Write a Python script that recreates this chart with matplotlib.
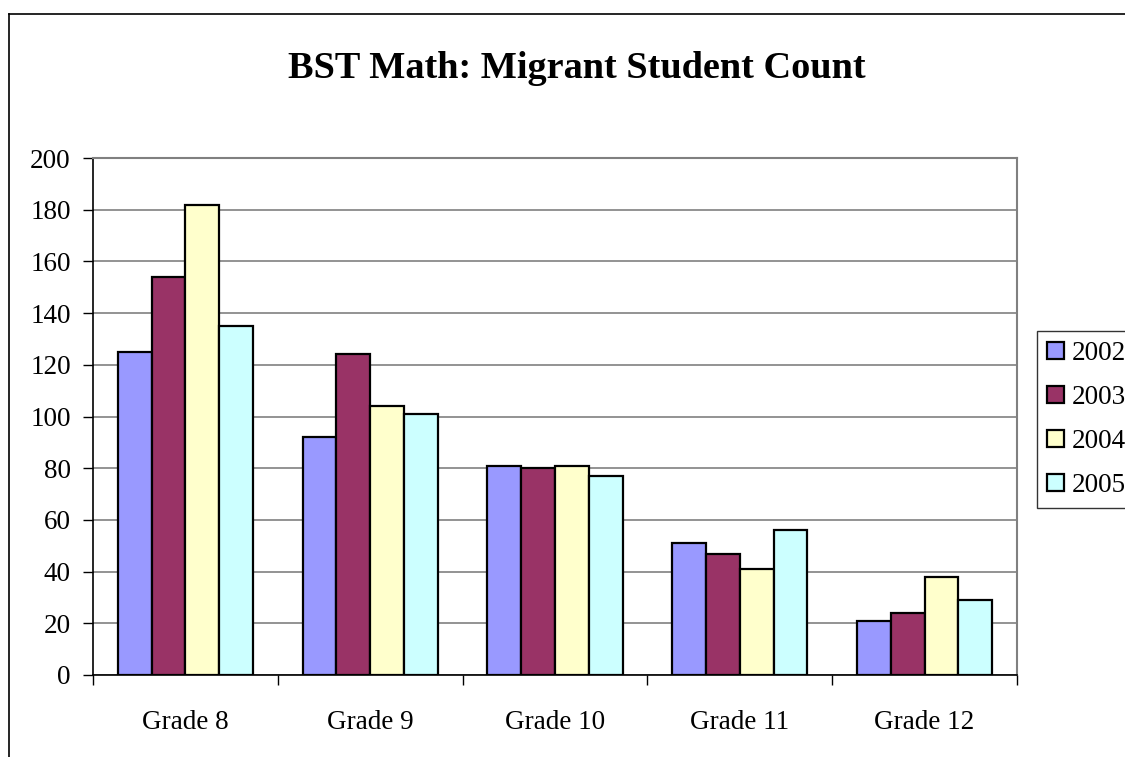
import matplotlib
matplotlib.use("Agg")
import matplotlib.pyplot as plt
import numpy as np
from matplotlib.lines import Line2D

categories = ["Grade 8", "Grade 9", "Grade 10", "Grade 11", "Grade 12"]
years = ["2002", "2003", "2004", "2005"]
v2002 = [125, 92, 81, 51, 21]
v2003 = [154, 124, 80, 47, 24]
v2004 = [182, 104, 81, 41, 38]
v2005 = [135, 101, 77, 56, 29]
series = [v2002, v2003, v2004, v2005]
colors = ["#9999FF", "#993366", "#FFFFCC", "#CCFFFF"]
yticks = [0, 20, 40, 60, 80, 100, 120, 140, 160, 180, 200]

plt.rcParams['font.family'] = ['Liberation Serif', 'DejaVu Serif']

fig = plt.figure(figsize=(11.25, 7.57), dpi=100)
W, H = 1125, 757
ax = fig.add_axes([93 / W, 1 - 675 / H, (1017 - 93) / W, (675 - 158) / H])

x = np.arange(len(categories))
bw = 0.183
for i, (vals, c, lab) in enumerate(zip(series, colors, years)):
    ax.bar(x + (i - 1.5) * bw, vals, width=bw, color=c, edgecolor="black",
           linewidth=1.6, label=lab, zorder=3)

ax.set_xlim(-0.5, len(categories) - 0.5)
ax.set_ylim(0, 200)
ax.set_yticks(yticks)
ax.set_yticklabels([str(t) for t in yticks], fontsize=19.5)
ax.yaxis.grid(True, color="#808080", linewidth=1.2, zorder=0)
ax.set_axisbelow(True)

ax.set_xticks(x)
ax.set_xticklabels(categories, fontsize=19.5)
ax.set_xticks(np.arange(-0.5, len(categories)), minor=True)
ax.tick_params(axis='x', which='major', length=0, pad=25)
ax.tick_params(axis='x', which='minor', length=7, width=1, direction='out', color='black')
ax.tick_params(axis='y', which='major', length=7, width=1, direction='out', pad=9)

for s in ['top', 'right']:
    ax.spines[s].set_color('#808080')
    ax.spines[s].set_linewidth(1.5)
ax.spines['left'].set_color('black')
ax.spines['left'].set_linewidth(1.2)
ax.spines['bottom'].set_color('black')
ax.spines['bottom'].set_linewidth(1.2)

fig.text(577 / W, 1 - 68 / H, "BST Math: Migrant Student Count", ha='center', va='center',
         fontsize=27.5, fontweight='bold')

# outer chart border
fig.add_artist(Line2D([9 / W, 9 / W], [0, 1 - 14 / H], color='black', linewidth=1.2, transform=fig.transFigure))
fig.add_artist(Line2D([9 / W, 1], [1 - 14 / H, 1 - 14 / H], color='black', linewidth=1.2, transform=fig.transFigure))

leg = fig.legend(loc='upper left', bbox_to_anchor=(1037 / W, 1 - 331 / H), fontsize=19.5,
                 frameon=True, fancybox=False, edgecolor='black', handlelength=0.6,
                 handleheight=0.6, handletextpad=0.3, borderpad=0.38, labelspacing=0.7,
                 borderaxespad=0)
leg.get_frame().set_linewidth(1)

fig.savefig("out.png", dpi=100)
